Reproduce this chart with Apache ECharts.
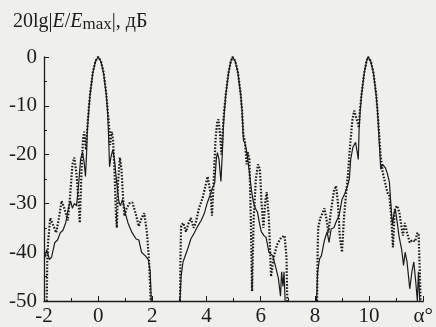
<!DOCTYPE html>
<html>
<head>
<meta charset="utf-8">
<script src="https://cdn.jsdelivr.net/npm/echarts@6/dist/echarts.min.js"></script>
<style>
  html, body { margin: 0; padding: 0; background: #efefed; }
  #chart { width: 436px; height: 327px; }
</style>
</head>
<body>
<div id="chart"></div>
<script>
// ось x: угол alpha, градусы; ось y: 20lg|E/Emax|, дБ
const xTicks = [-2, 0, 2, 4, 6, 8, 10]
const yTicks = [0, -10, -20, -30, -40, -50]

// сплошная линия, три луча [alpha, dB]
const solidLobe1 = [[-1.96, -41], [-1.9, -39.5], [-1.8, -41.5], [-1.72, -41], [-1.6, -38], [-1.5, -37.5], [-1.4, -36], [-1.3, -35.5], [-1.2, -34], [-1.1, -31], [-1.02, -29.5], [-0.95, -31], [-0.88, -30], [-0.8, -30.5], [-0.72, -26], [-0.65, -21], [-0.58, -19.5], [-0.52, -21.5], [-0.47, -24.5], [-0.43, -20], [-0.4, -15], [-0.35, -11], [-0.3, -7.8], [-0.2, -3.3], [-0.1, -0.9], [0, 0], [0.1, -0.9], [0.2, -3.3], [0.3, -7.8], [0.35, -11.5], [0.38, -15.5], [0.42, -22.5], [0.47, -20.5], [0.54, -19], [0.6, -21], [0.68, -25.5], [0.76, -29.5], [0.82, -30.5], [0.9, -29.2], [1.0, -32], [1.1, -34], [1.25, -36], [1.4, -37.3], [1.5, -37.5], [1.6, -40], [1.75, -40.8], [1.85, -41.5], [1.92, -44], [1.96, -50]]
const solidLobe2 = [[3.02, -50], [3.06, -45], [3.13, -42], [3.3, -39.4], [3.42, -37.3], [3.55, -36], [3.67, -34.7], [3.8, -33.5], [3.92, -32], [4.03, -29.8], [4.12, -28.5], [4.2, -27.1], [4.3, -25.8], [4.36, -21], [4.4, -19.6], [4.46, -21], [4.53, -25.5], [4.58, -20], [4.62, -14.5], [4.66, -11], [4.71, -7.8], [4.81, -3.3], [4.89, -1], [4.96, 0], [5.06, -0.9], [5.16, -3.3], [5.26, -7.8], [5.31, -11], [5.36, -17], [5.42, -17.8], [5.47, -19], [5.52, -21], [5.58, -23.6], [5.65, -27], [5.72, -29.5], [5.8, -31], [5.88, -31.8], [5.95, -34], [6.02, -35.8], [6.12, -36.6], [6.2, -37], [6.3, -40], [6.44, -40.7], [6.55, -43], [6.65, -45.3], [6.73, -49], [6.77, -44], [6.82, -47], [6.86, -44], [6.9, -50]]
const solidLobe3 = [[8.06, -50], [8.1, -44], [8.17, -41.4], [8.24, -40.7], [8.35, -37.6], [8.45, -35.8], [8.52, -38], [8.6, -35.2], [8.7, -35], [8.78, -33.8], [8.89, -32.5], [9.0, -29.2], [9.1, -28], [9.2, -26.5], [9.27, -25], [9.32, -21], [9.4, -18.5], [9.5, -17.5], [9.56, -19.5], [9.6, -21], [9.63, -15], [9.67, -11], [9.72, -7.8], [9.82, -3.3], [9.9, -1], [9.96, 0], [10.06, -0.9], [10.16, -3.3], [10.26, -7.8], [10.31, -11], [10.36, -16], [10.43, -23], [10.5, -22], [10.6, -22.7], [10.68, -24], [10.75, -25.7], [10.8, -30], [10.86, -34.5], [10.92, -32], [10.97, -31.2], [11.04, -34], [11.1, -36.6], [11.2, -39.4], [11.27, -42.7], [11.33, -40], [11.4, -42], [11.5, -47.5], [11.58, -44], [11.65, -42], [11.72, -46], [11.78, -50], [11.82, -44], [11.87, -50]]

// пунктирная линия
const dottedLobe1 = [[-1.9, -50], [-1.88, -42], [-1.85, -38], [-1.77, -33], [-1.7, -32.6], [-1.62, -35], [-1.55, -36], [-1.45, -33], [-1.35, -29.5], [-1.25, -31], [-1.12, -33.5], [-1.03, -28], [-0.95, -22], [-0.88, -20.6], [-0.8, -24], [-0.72, -30], [-0.68, -34], [-0.62, -24], [-0.56, -17], [-0.52, -15.3], [-0.48, -17.5], [-0.45, -19], [-0.42, -16], [-0.38, -13], [-0.35, -10.8], [-0.3, -7.6], [-0.2, -3.2], [-0.1, -0.8], [0, 0], [0.1, -0.8], [0.2, -3.2], [0.3, -7.6], [0.35, -10.8], [0.4, -14], [0.44, -18], [0.47, -16.5], [0.5, -15.3], [0.55, -17], [0.6, -23], [0.66, -33], [0.69, -35], [0.73, -26], [0.8, -20.6], [0.86, -23], [0.92, -29], [0.97, -32.6], [1.05, -31], [1.15, -30], [1.26, -29.8], [1.38, -32], [1.5, -34.7], [1.6, -33], [1.7, -32], [1.8, -36], [1.88, -42], [1.94, -50]]
const dottedLobe2 = [[3.02, -50], [3.04, -40], [3.06, -34.6], [3.14, -34], [3.24, -35.8], [3.34, -34], [3.42, -33], [3.52, -35], [3.6, -34], [3.72, -31], [3.85, -29], [3.96, -26.4], [4.04, -24.5], [4.1, -24.4], [4.15, -28], [4.2, -32.5], [4.26, -26], [4.33, -17], [4.39, -13.5], [4.44, -12.8], [4.5, -16], [4.55, -20], [4.58, -17], [4.62, -13], [4.66, -10.5], [4.71, -7.6], [4.81, -3.2], [4.89, -1], [4.96, 0], [5.06, -0.8], [5.16, -3.2], [5.26, -7.6], [5.31, -11], [5.36, -16], [5.42, -17.5], [5.48, -22], [5.52, -19.5], [5.58, -21], [5.63, -32], [5.68, -48], [5.74, -33], [5.82, -25], [5.9, -22], [5.97, -23], [6.03, -30], [6.1, -35], [6.16, -30], [6.22, -27.7], [6.3, -33], [6.38, -45], [6.48, -41], [6.6, -38.5], [6.75, -37], [6.88, -36.6], [6.95, -41], [6.98, -50]]
const dottedLobe3 = [[8.08, -50], [8.1, -40], [8.12, -35], [8.2, -33], [8.28, -32], [8.35, -31], [8.42, -33], [8.5, -36], [8.58, -32], [8.7, -27.5], [8.78, -26.4], [8.85, -30], [8.92, -37], [9.0, -40], [9.07, -33], [9.15, -28], [9.22, -24], [9.3, -18], [9.38, -13], [9.45, -11], [9.52, -10.8], [9.58, -13.5], [9.62, -14.5], [9.66, -11], [9.72, -7.6], [9.82, -3.2], [9.9, -1], [9.96, 0], [10.06, -0.8], [10.16, -3.2], [10.26, -7.6], [10.31, -11], [10.36, -15], [10.42, -20], [10.5, -23.6], [10.6, -26], [10.67, -27.7], [10.75, -28.5], [10.82, -33], [10.88, -39], [10.95, -31], [11.04, -30.5], [11.12, -32], [11.2, -35], [11.25, -36.6], [11.32, -34], [11.4, -36], [11.5, -38], [11.6, -37.5], [11.7, -37.8], [11.78, -36], [11.83, -36.5], [11.87, -44], [11.9, -50]]

const ink = '#1c1c1c'
const serif = 'Liberation Serif'

const chart = echarts.init(document.getElementById('chart'))

function solid(data) {
  return {
    type: 'line', data: data, showSymbol: false, clip: false, silent: true,
    lineStyle: { color: ink, width: 1.2 }
  }
}
function dotted(data) {
  return {
    type: 'line', data: data, showSymbol: false, clip: false, silent: true,
    lineStyle: { color: ink, width: 2.2, type: [1.6, 1.6] }
  }
}

chart.setOption({
  backgroundColor: '#efefed',
  animation: false,
  textStyle: { fontFamily: serif },
  title: {
    left: 8, top: 5,
    text: '20lg|{i|E}/{i|E}{sub|max}|, дБ',
    textStyle: {
      color: ink, fontSize: 20, fontWeight: 'normal', fontFamily: serif,
      rich: {
        i: { fontStyle: 'italic', fontSize: 20, fontFamily: serif, color: ink },
        sub: { fontSize: 17, fontFamily: serif, color: ink, padding: [6, 0, 0, 0] }
      }
    }
  },
  grid: { left: 44, right: 4, top: 57, bottom: 24 },
  xAxis: {
    type: 'value', min: -2, max: 12, interval: 2,
    axisLine: { onZero: false, lineStyle: { color: ink, width: 1.3 } },
    axisTick: { inside: true, length: 5, lineStyle: { color: ink } },
    minorTick: { show: true, splitNumber: 2, length: 3, lineStyle: { color: ink } },
    splitLine: { show: false },
    axisLabel: {
      color: ink, fontSize: 21, fontFamily: serif, margin: 5,
      formatter: function (v) { return xTicks.indexOf(v) >= 0 ? String(v) : 'α°' },
      align: 'center'
    }
  },
  yAxis: {
    type: 'value', min: -50, max: 0, interval: 10,
    axisLine: { onZero: false, lineStyle: { color: ink, width: 1.3 } },
    axisTick: { inside: true, length: 5, lineStyle: { color: ink } },
    minorTick: { show: true, splitNumber: 2, length: 3, lineStyle: { color: ink } },
    splitLine: { show: false },
    axisLabel: {
      color: ink, fontSize: 21, fontFamily: serif, margin: 7,
      formatter: function (v) { return yTicks.indexOf(v) >= 0 ? String(v) : '' }
    }
  },
  series: [
    solid(solidLobe1), solid(solidLobe2), solid(solidLobe3),
    dotted(dottedLobe1), dotted(dottedLobe2), dotted(dottedLobe3)
  ]
})
</script>
</body>
</html>
